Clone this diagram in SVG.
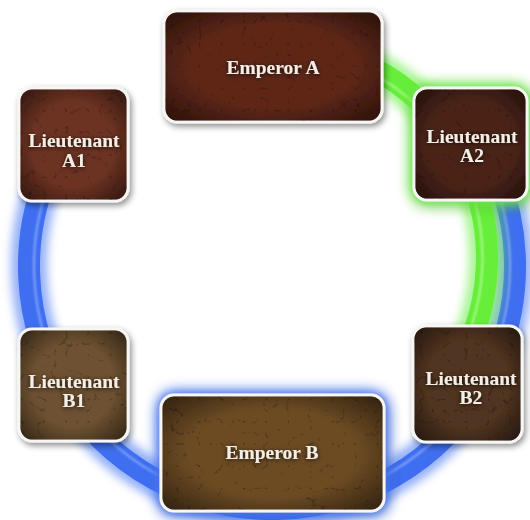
<svg xmlns="http://www.w3.org/2000/svg" width="530" height="520" viewBox="0 0 530 520">
<defs>
<style>
.ring-glow{fill:none;stroke-width:36;opacity:0.55}
.ring{fill:none;stroke-width:22}
.ring-hi{fill:none;stroke-width:2;opacity:0.75}
.box{stroke:#f6f6f4;stroke-width:3}
.vig{fill:url(#vig)}
.tex{fill:#000;opacity:0.4}
.lbl{font-family:"Liberation Serif","Times New Roman",serif;font-weight:bold;font-size:19.5px;fill:#f3eee6;text-anchor:middle}
</style>
<filter id="blur" x="-20%" y="-20%" width="140%" height="140%"><feGaussianBlur stdDeviation="5"/></filter>
<filter id="soft" x="-20%" y="-20%" width="140%" height="140%"><feGaussianBlur stdDeviation="1.2"/></filter>
<filter id="shadow" x="-20%" y="-20%" width="140%" height="150%"><feDropShadow dx="2" dy="3" stdDeviation="3" flood-color="#000" flood-opacity="0.45"/></filter>
<filter id="gglow" x="-30%" y="-30%" width="160%" height="160%"><feDropShadow dx="0" dy="0" stdDeviation="7" flood-color="#5fe83a" flood-opacity="1"/><feDropShadow dx="0" dy="0" stdDeviation="3" flood-color="#7ff05a" flood-opacity="0.8"/><feDropShadow dx="2" dy="3" stdDeviation="2" flood-color="#000" flood-opacity="0.3"/></filter>
<filter id="bglow" x="-30%" y="-30%" width="160%" height="160%"><feDropShadow dx="0" dy="0" stdDeviation="7" flood-color="#3d6ff2" flood-opacity="1"/><feDropShadow dx="0" dy="0" stdDeviation="3" flood-color="#5a85f5" flood-opacity="0.7"/><feDropShadow dx="2" dy="3" stdDeviation="2" flood-color="#000" flood-opacity="0.3"/></filter>
<filter id="tex" x="0" y="0" width="100%" height="100%">
<feTurbulence type="turbulence" baseFrequency="0.045" numOctaves="3" seed="7" result="t"/>
<feColorMatrix in="t" type="matrix" values="0 0 0 0 0  0 0 0 0 0  0 0 0 0 0  -7 0 0 0 0.75" result="v"/>
<feComposite in="v" in2="SourceAlpha" operator="in"/>
</filter>
<filter id="tshadow" x="-20%" y="-50%" width="140%" height="200%"><feDropShadow dx="0" dy="1" stdDeviation="2.5" flood-color="#000" flood-opacity="0.8"/></filter>
<radialGradient id="vig" cx="50%" cy="50%" r="70%">
<stop offset="0.55" stop-color="#000" stop-opacity="0"/>
<stop offset="1" stop-color="#000" stop-opacity="0.55"/>
</radialGradient>
</defs>
<rect width="530" height="520" fill="#ffffff"/>

<g id="connectors">
<path d="M482.4,144.5 A243,243 0 1 1 51.8,163.3" class="ring-glow" stroke="#3d6ff2" filter="url(#blur)"/>
<path d="M482.4,144.5 A243,243 0 1 1 51.8,163.3" class="ring" stroke="#3f6ff0"/>
<path d="M478.1,147 A238,238 0 1 1 56.3,165.4" class="ring-hi" stroke="#9db8ff" filter="url(#soft)"/>
<path d="M253.3,43.8 A215,215 0 0 1 448.1,381.3" class="ring-glow" stroke="#62ec3c" filter="url(#blur)"/>
<path d="M253.3,43.8 A215,215 0 0 1 448.1,381.3" class="ring" stroke="#66ee3a"/>
<path d="M255,49 A210,210 0 0 1 445,378" class="ring-hi" stroke="#c4ffab" filter="url(#soft)"/>
</g>

<g id="emperor-a" filter="url(#shadow)">
<rect x="164" y="11" width="218" height="111" rx="13" fill="#5e2718" class="box"/>
<rect x="165.5" y="12.5" width="215" height="108" rx="12" class="vig"/>
<rect x="165.5" y="12.5" width="215" height="108" rx="12" class="tex" filter="url(#tex)"/>
<text x="273" y="74" class="lbl" filter="url(#tshadow)">Emperor A</text>
</g>

<g id="lieutenant-a1" filter="url(#shadow)">
<rect x="19" y="88" width="109" height="113" rx="13" fill="#6c3222" class="box"/>
<rect x="20.5" y="89.5" width="106" height="110" rx="12" class="vig"/>
<rect x="20.5" y="89.5" width="106" height="110" rx="12" class="tex" filter="url(#tex)"/>
<text class="lbl" filter="url(#tshadow)"><tspan x="74" y="147">Lieutenant</tspan><tspan x="74" y="167">A1</tspan></text>
</g>

<g id="lieutenant-a2" filter="url(#gglow)">
<rect x="414" y="88" width="113" height="112" rx="13" fill="#4b2419" class="box"/>
<rect x="415.5" y="89.5" width="110" height="109" rx="12" class="vig"/>
<rect x="415.5" y="89.5" width="110" height="109" rx="12" class="tex" filter="url(#tex)"/>
<text class="lbl" filter="url(#tshadow)"><tspan x="472" y="143">Lieutenant</tspan><tspan x="472" y="162">A2</tspan></text>
</g>

<g id="lieutenant-b1" filter="url(#shadow)">
<rect x="19" y="329" width="109" height="112" rx="13" fill="#6d5131" class="box"/>
<rect x="20.5" y="330.5" width="106" height="109" rx="12" class="vig"/>
<rect x="20.5" y="330.5" width="106" height="109" rx="12" class="tex" filter="url(#tex)"/>
<text class="lbl" filter="url(#tshadow)"><tspan x="74" y="388">Lieutenant</tspan><tspan x="74" y="407">B1</tspan></text>
</g>

<g id="lieutenant-b2" filter="url(#shadow)">
<rect x="413" y="326" width="109" height="116" rx="13" fill="#503420" class="box"/>
<rect x="414.5" y="327.5" width="106" height="113" rx="12" class="vig"/>
<rect x="414.5" y="327.5" width="106" height="113" rx="12" class="tex" filter="url(#tex)"/>
<text class="lbl" filter="url(#tshadow)"><tspan x="471" y="385">Lieutenant</tspan><tspan x="471" y="404">B2</tspan></text>
</g>

<g id="emperor-b" filter="url(#bglow)">
<rect x="161" y="395" width="223" height="116" rx="13" fill="#6c4b24" class="box"/>
<rect x="162.5" y="396.5" width="220" height="113" rx="12" class="vig"/>
<rect x="162.5" y="396.5" width="220" height="113" rx="12" class="tex" filter="url(#tex)"/>
<text x="272" y="459" class="lbl" filter="url(#tshadow)">Emperor B</text>
</g>
</svg>
